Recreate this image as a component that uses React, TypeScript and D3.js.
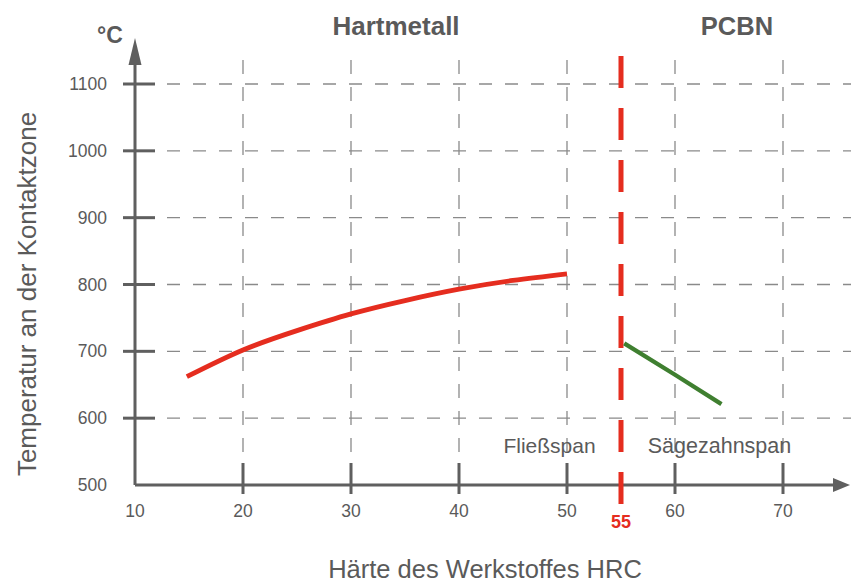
import React from "react";
import * as d3 from "d3";

// values
const xTicks = [10, 20, 30, 40, 50, 60, 70];
const yTicks = [500, 600, 700, 800, 900, 1000, 1100];
const gridX = [20, 30, 40, 50, 60, 70];
const gridY = [600, 700, 800, 900, 1000, 1100];

// Hartmetall: Fließspan
const redX = [14.8, 20, 25, 30, 35, 40, 45, 50];
const redY = [662, 702, 731, 756, 776, 793, 806, 816];
// PCBN: Sägezahnspan
const greenX = [55.3, 60, 64.3];
const greenY = [712, 665, 621];

const boundary = 55;

const W = 851;
const H = 582;
const font = "'Liberation Sans', Arial, sans-serif";
const grey = "#5a5a5a";
const axisCol = "#5f5f5f";
const gridCol = "#8a8a8a";
const red = "#e52d1f";
const green = "#3f7f30";

const App: React.FC = () => {
  const x = d3.scaleLinear().domain([10, 70]).range([135, 783]);
  const y = d3.scaleLinear().domain([500, 1100]).range([485, 84]);

  const line = d3
    .line<[number, number]>()
    .x((d) => x(d[0]))
    .y((d) => y(d[1]))
    .curve(d3.curveNatural);

  const redPts = redX.map((v, i) => [v, redY[i]] as [number, number]);
  const greenPts = greenX.map((v, i) => [v, greenY[i]] as [number, number]);

  const x0 = x(10);
  const y0 = y(500);

  return (
    <svg
      width={W}
      height={H}
      style={{ position: "absolute", left: 0, top: 0, background: "#fff" }}
      fontFamily={font}
    >
      {/* grid */}
      {gridY.map((v) => (
        <line
          key={"gy" + v}
          x1={167}
          x2={W}
          y1={y(v)}
          y2={y(v)}
          stroke={gridCol}
          strokeWidth={1.3}
          strokeDasharray="13,13"
        />
      ))}
      {gridX.map((v) => (
        <line
          key={"gx" + v}
          x1={x(v)}
          x2={x(v)}
          y1={60}
          y2={456}
          stroke={gridCol}
          strokeWidth={1.3}
          strokeDasharray="14,13"
        />
      ))}

      {/* axes */}
      <line x1={x0} x2={x0} y1={y0} y2={60} stroke={axisCol} strokeWidth={3} />
      <polygon points={`${x0},38 ${x0 - 6.5},65 ${x0 + 6.5},65`} fill={axisCol} />
      <line x1={x0} x2={835} y1={y0} y2={y0} stroke={axisCol} strokeWidth={3} />
      <polygon points={`850,${y0} 833,${y0 - 7} 833,${y0 + 7}`} fill={axisCol} />

      {/* y ticks */}
      {yTicks.map((v) => (
        <g key={"yt" + v}>
          {v !== 500 && (
            <line x1={x0 - 12} x2={x0 + 20} y1={y(v)} y2={y(v)} stroke={axisCol} strokeWidth={3} />
          )}
          <text
            x={107}
            y={y(v)}
            dy="0.35em"
            textAnchor="end"
            fontSize={17.5}
            fill={grey}
          >
            {v}
          </text>
        </g>
      ))}

      {/* x ticks */}
      {xTicks.map((v) => (
        <g key={"xt" + v}>
          {v !== 10 && (
            <line x1={x(v)} x2={x(v)} y1={y0 - 22} y2={y0 + 9} stroke={axisCol} strokeWidth={3} />
          )}
          <text x={x(v)} y={517} textAnchor="middle" fontSize={17.5} fill={grey}>
            {v}
          </text>
        </g>
      ))}

      {/* boundary */}
      <line
        x1={x(boundary)}
        x2={x(boundary)}
        y1={56}
        y2={505}
        stroke={red}
        strokeWidth={5}
        strokeDasharray="32,20"
      />
      <text
        x={x(boundary)}
        y={528}
        textAnchor="middle"
        fontSize={18}
        fontWeight="bold"
        fill={red}
      >
        {boundary}
      </text>

      {/* curves */}
      <path d={line(redPts) ?? ""} fill="none" stroke={red} strokeWidth={4.8} />
      <path d={line(greenPts) ?? ""} fill="none" stroke={green} strokeWidth={4.3} />

      {/* labels */}
      <text x={110} y={43} textAnchor="middle" fontSize={23} fontWeight="bold" fill={grey}>
        °C
      </text>
      <text x={396} y={35} textAnchor="middle" fontSize={26} fontWeight="bold" fill={grey}>
        Hartmetall
      </text>
      <text x={737} y={35} textAnchor="middle" fontSize={25.5} fontWeight="bold" fill={grey}>
        PCBN
      </text>
      <text x={549.5} y={453} textAnchor="middle" fontSize={21} fill={grey}>
        Fließspan
      </text>
      <text x={719.5} y={453} textAnchor="middle" fontSize={21.5} fill={grey}>
        Sägezahnspan
      </text>
      <text x={485} y={578} textAnchor="middle" fontSize={25.5} fill={grey}>
        Härte des Werkstoffes HRC
      </text>
      <text
        transform="translate(36,294) rotate(-90)"
        textAnchor="middle"
        fontSize={26}
        fill={grey}
      >
        Temperatur an der Kontaktzone
      </text>
    </svg>
  );
};

export default App;
